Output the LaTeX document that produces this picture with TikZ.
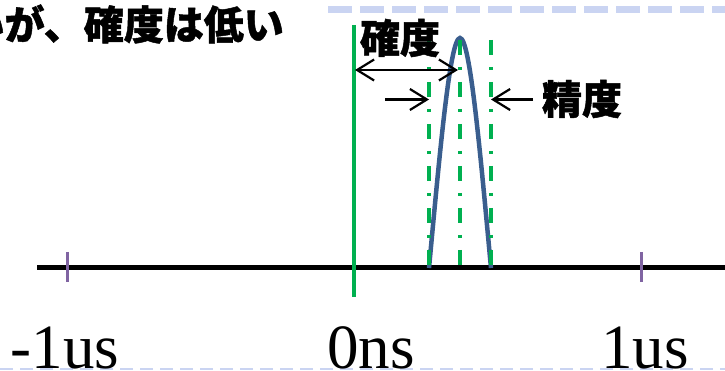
\documentclass[tikz,border=0pt]{standalone}
\usepackage{fontspec}
\setmainfont{Liberation Serif}
\newfontfamily\cjk{Noto Sans CJK JP}[BoldFeatures={FakeBold=1.2}]
\usetikzlibrary{arrows.meta}
\definecolor{gline}{HTML}{00B050}
\definecolor{bcurve}{HTML}{3A5E8E}
\definecolor{ptick}{HTML}{8064A2}
\definecolor{frame}{HTML}{CAD4F2}
\tikzset{
  jp/.style={font=\cjk\bfseries\fontsize{40}{40}\selectfont, inner sep=0pt},
  axlabel/.style={font=\fontsize{63}{63}\selectfont, inner sep=0pt, anchor=base},
  barb/.tip={Straight Barb[length=17pt,width=21pt,line width=2.2pt]},
  garrow/.style={line width=2.2pt, -barb},
  dashdot/.style={gline, line width=3.5pt, dash pattern=on 15pt off 12pt on 3pt off 12pt},
  ticks/.style={ptick, line width=3pt}
}
\begin{document}
\begin{tikzpicture}[x=1pt,y=-1pt]
\useasboundingbox (0,0) rectangle (725,371);
% frame dashes
\draw[frame, line width=7pt, dash pattern=on 24pt off 8pt] (328,10) -- (725,10);
\draw[frame, line width=2pt, dash pattern=on 13pt off 7pt] (0,369) -- (725,369);
% axis
\coordinate (axL) at (37,267.5);
\coordinate (axR) at (725,267.5);
\draw[line width=5pt] (axL) -- (axR);
\coordinate (t1a) at (67,252); \coordinate (t1b) at (67,282);
\coordinate (t2a) at (641,252); \coordinate (t2b) at (641,282);
\draw[ticks] (t1a) -- (t1b);
\draw[ticks] (t2a) -- (t2b);
% curve
\coordinate (cL) at (429,268);
\coordinate (cP) at (460,38);
\coordinate (cR) at (491,268);
\draw[bcurve, line width=4.5pt] (cL) .. controls (440,150) and (450,38) .. (cP)
  .. controls (470,38) and (480,150) .. (cR);
% green lines
\coordinate (g0a) at (354,25); \coordinate (g0b) at (354,297);
\draw[gline, line width=4pt] (g0a) -- (g0b);
\coordinate (g1a) at (429,40); \coordinate (g1b) at (429,268);
\coordinate (g2a) at (460,40); \coordinate (g2b) at (460,268);
\coordinate (g3a) at (491,40); \coordinate (g3b) at (491,268);
\draw[dashdot] (g1a) -- (g1b);
\draw[dashdot] (g2a) -- (g2b);
\draw[dashdot] (g3a) -- (g3b);
% arrows
\coordinate (a1) at (355,70); \coordinate (a2) at (458,70);
\draw[line width=2.2pt, barb-barb] (a1) -- (a2);
\coordinate (b1) at (385,99.5); \coordinate (b2) at (429,99.5);
\draw[garrow] (b1) -- (b2);
\coordinate (c1) at (533,99.5); \coordinate (c2) at (491,99.5);
\draw[garrow] (c1) -- (c2);
% texts
\node[jp, anchor=east] (top) at (284,24) {いが、確度は低い};
\node[jp] (kakudo) at (400,38) {確度};
\node[jp] (seido) at (582,99) {精度};
\node[axlabel] (m1) at (65,368) {-1us};
\node[axlabel] (z0) at (371,368) {0ns};
\node[axlabel] (p1) at (645,368) {1us};
\end{tikzpicture}
\end{document}
